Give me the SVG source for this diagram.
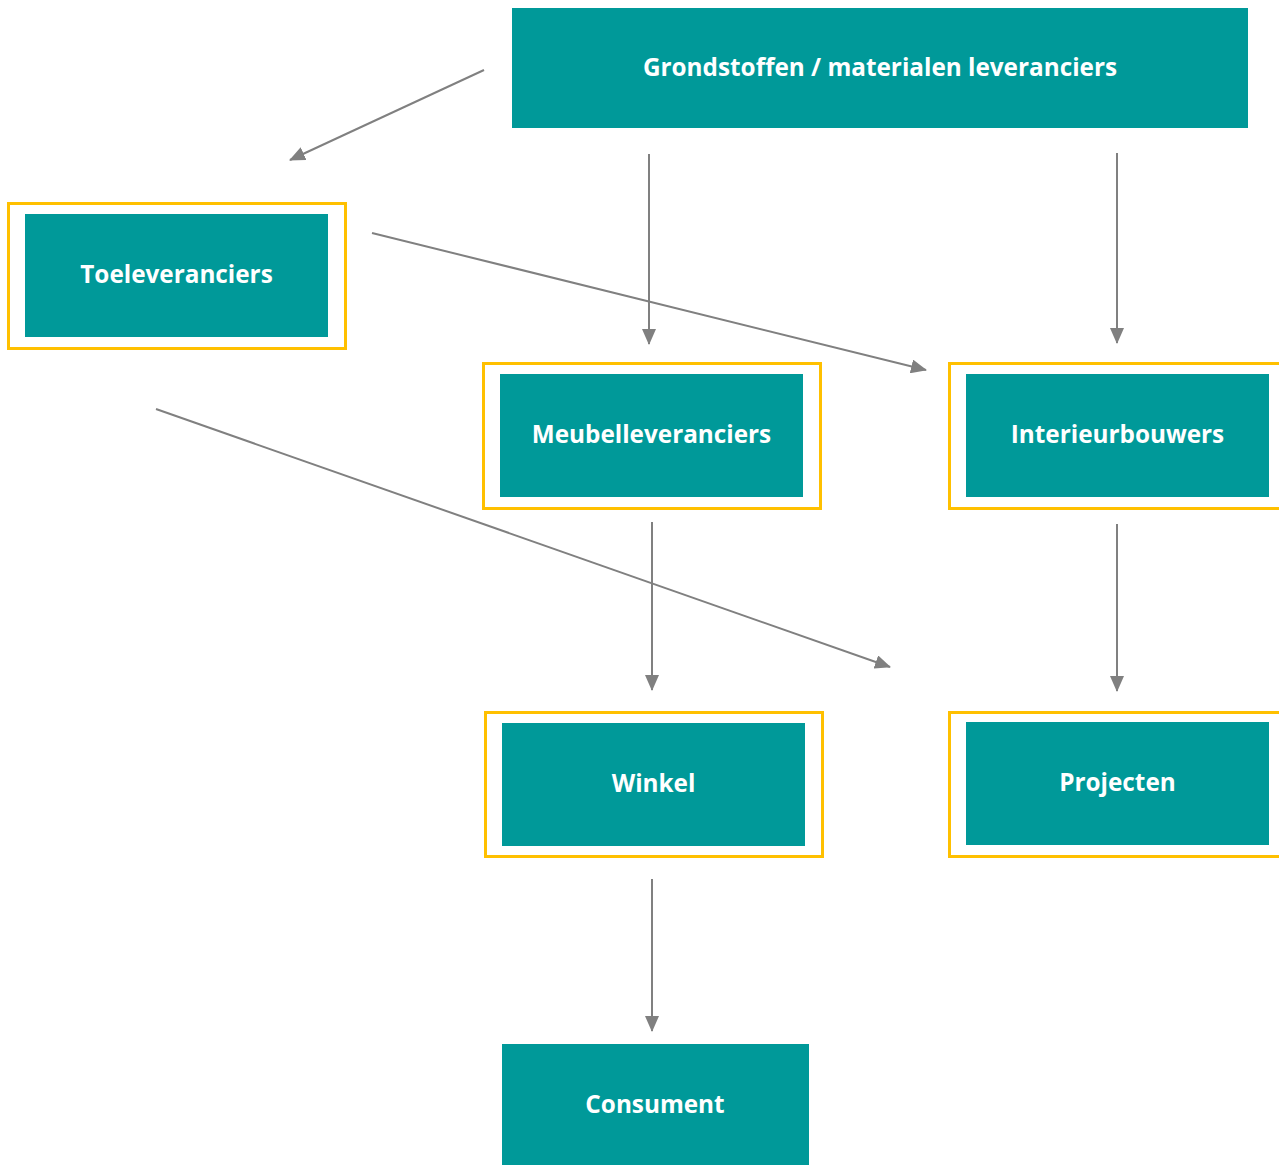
<svg xmlns="http://www.w3.org/2000/svg" width="1279" height="1165" viewBox="0 0 1279 1165">
<style>
.box{fill:#009999}
.frame{fill:none;stroke:#FFC000;stroke-width:3}
.lbl{fill:#ffffff;font-family:"Open Sans","Liberation Sans",sans-serif;font-weight:bold;font-size:24.3px;text-anchor:middle;dominant-baseline:central}
.conn{stroke:#808080;stroke-width:2;fill:none;marker-end:url(#ah)}
</style>
<defs>
<marker id="ah" markerUnits="userSpaceOnUse" markerWidth="16" markerHeight="14" refX="15" refY="7" orient="auto">
<path d="M0,0 L16,7 L0,14 Z" fill="#808080"/>
</marker>
</defs>
<rect width="1279" height="1165" fill="#ffffff"/>
<g id="connectors">
<line class="conn" x1="484" y1="70" x2="290" y2="160"/>
<line class="conn" x1="649" y1="154" x2="649" y2="344"/>
<line class="conn" x1="1117" y1="153" x2="1117" y2="343"/>
<line class="conn" x1="372" y1="233" x2="926" y2="370"/>
<line class="conn" x1="156" y1="409" x2="890" y2="667"/>
<line class="conn" x1="652" y1="522" x2="652" y2="690"/>
<line class="conn" x1="1117" y1="524" x2="1117" y2="691"/>
<line class="conn" x1="652" y1="879" x2="652" y2="1031"/>
</g>
<g id="grondstoffen">
<rect class="box" x="512" y="8" width="736" height="120"/>
<text class="lbl" x="880" y="66">Grondstoffen / materialen leveranciers</text>
</g>
<g id="toeleveranciers">
<rect class="frame" x="8.5" y="203.5" width="337" height="145"/>
<rect class="box" x="25" y="214" width="303" height="123"/>
<text class="lbl" x="176.5" y="273">Toeleveranciers</text>
</g>
<g id="meubelleveranciers">
<rect class="frame" x="483.5" y="363.5" width="337" height="145"/>
<rect class="box" x="500" y="374" width="303" height="123"/>
<text class="lbl" x="651.5" y="433">Meubelleveranciers</text>
</g>
<g id="interieurbouwers">
<rect class="frame" x="949.5" y="363.5" width="335" height="145"/>
<rect class="box" x="966" y="374" width="303" height="123"/>
<text class="lbl" x="1117.5" y="433">Interieurbouwers</text>
</g>
<g id="winkel">
<rect class="frame" x="485.5" y="712.5" width="337" height="144"/>
<rect class="box" x="502" y="723" width="303" height="123"/>
<text class="lbl" x="653.5" y="782">Winkel</text>
</g>
<g id="projecten">
<rect class="frame" x="949.5" y="712.5" width="335" height="144"/>
<rect class="box" x="966" y="722" width="303" height="123"/>
<text class="lbl" x="1117.5" y="781">Projecten</text>
</g>
<g id="consument">
<rect class="box" x="502" y="1044" width="307" height="121"/>
<text class="lbl" x="655" y="1103">Consument</text>
</g>
</svg>
